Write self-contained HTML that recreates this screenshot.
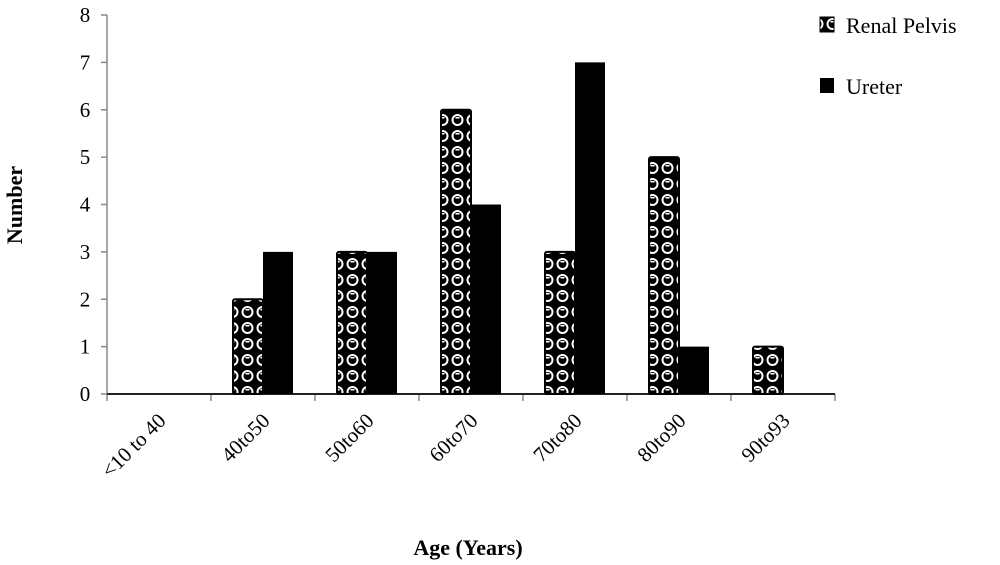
<!DOCTYPE html>
<html><head><meta charset="utf-8"><style>
body{margin:0;background:#fff;}
svg text{font-family:"Liberation Serif",serif;}
</style></head><body>
<svg width="1000" height="560" viewBox="0 0 1000 560">
<defs>
<pattern id="dots" patternUnits="userSpaceOnUse" x="0" y="0" width="15" height="16">
<rect width="15" height="16" fill="#000"/>
<circle cx="7.5" cy="8" r="5" fill="none" stroke="#fff" stroke-width="2"/>
<rect x="5.5" y="5" width="4" height="1.5" fill="#fff"/>
</pattern>
</defs>
<g id="axes"></g>
<g id="bars"></g>
<text transform="translate(22,205) rotate(-90)" text-anchor="middle" font-size="22" font-weight="bold">Number</text>
<text x="468" y="555" text-anchor="middle" font-size="22" font-weight="bold">Age (Years)</text>
<g>
<rect x="820" y="17" width="14" height="15" fill="url(#dots)" stroke="#000"/>
<text x="846" y="33" font-size="22">Renal Pelvis</text>
<rect x="820" y="78" width="14" height="15" fill="#000"/>
<text x="846" y="94" font-size="22">Ureter</text>
</g>
</svg>
<script>
const categories=["<10 to 40","40to50","50to60","60to70","70to80","80to90","90to93"];
const renalPelvis=[0,2,3,6,3,5,1];
const ureter=[0,3,3,4,7,1,0];
const yTicks=[0,1,2,3,4,5,6,7,8];
const NS="http://www.w3.org/2000/svg";
const x0=107,x1=835,y0=394,y8=15,ymax=8;
const cw=(x1-x0)/categories.length;
const yS=v=>y0-(y0-y8)*v/ymax;
const xS=i=>x0+i*cw;
function mk(t,a,p){const e=document.createElementNS(NS,t);for(const k in a)e.setAttribute(k,a[k]);p.appendChild(e);return e;}
const ax=document.getElementById('axes'),bg=document.getElementById('bars');
const yl=mk('line',{x1:x0,y1:y0,x2:x0,y2:y8,stroke:'#888','stroke-width':1.5},ax);


yTicks.forEach(v=>{
const y=yS(v);
const t=mk('line',{x1:x0-6,y1:y,x2:x0,y2:y,stroke:'#888','stroke-width':1.5},ax);


const l=mk('text',{x:x0-22,y:y+7,'text-anchor':'middle','font-size':21},ax);


l.textContent=v;
});
categories.forEach((c,i)=>{
const x=xS(i)+cw/2;
const l=mk('text',{x:0,y:0,'text-anchor':'end','font-size':21,transform:`translate(${x+8},${y0+28}) rotate(-45)`},ax);


l.textContent=c;
});
for(let i=0;i<=categories.length;i++){
const t=mk('line',{x1:xS(i),y1:y0,x2:xS(i),y2:y0+7,stroke:'#888','stroke-width':1.5},ax);


}
const bw=30,off=(cw-2*bw)/2;
categories.forEach((c,i)=>{
if(renalPelvis[i]>0){
const r=mk('rect',{x:xS(i)+off,y:yS(renalPelvis[i]),width:bw,height:y0-yS(renalPelvis[i]),fill:'url(#dots)',stroke:'#000','stroke-width':2,rx:2},bg);


}
if(ureter[i]>0){
const r=mk('rect',{x:xS(i)+off+bw,y:yS(ureter[i]),width:bw,height:y0-yS(ureter[i]),fill:'#000'},bg);


}
});
const xl=mk('line',{x1:x0,y1:y0,x2:x1,y2:y0,stroke:'#222','stroke-width':2},ax);


</script>
</body></html>
